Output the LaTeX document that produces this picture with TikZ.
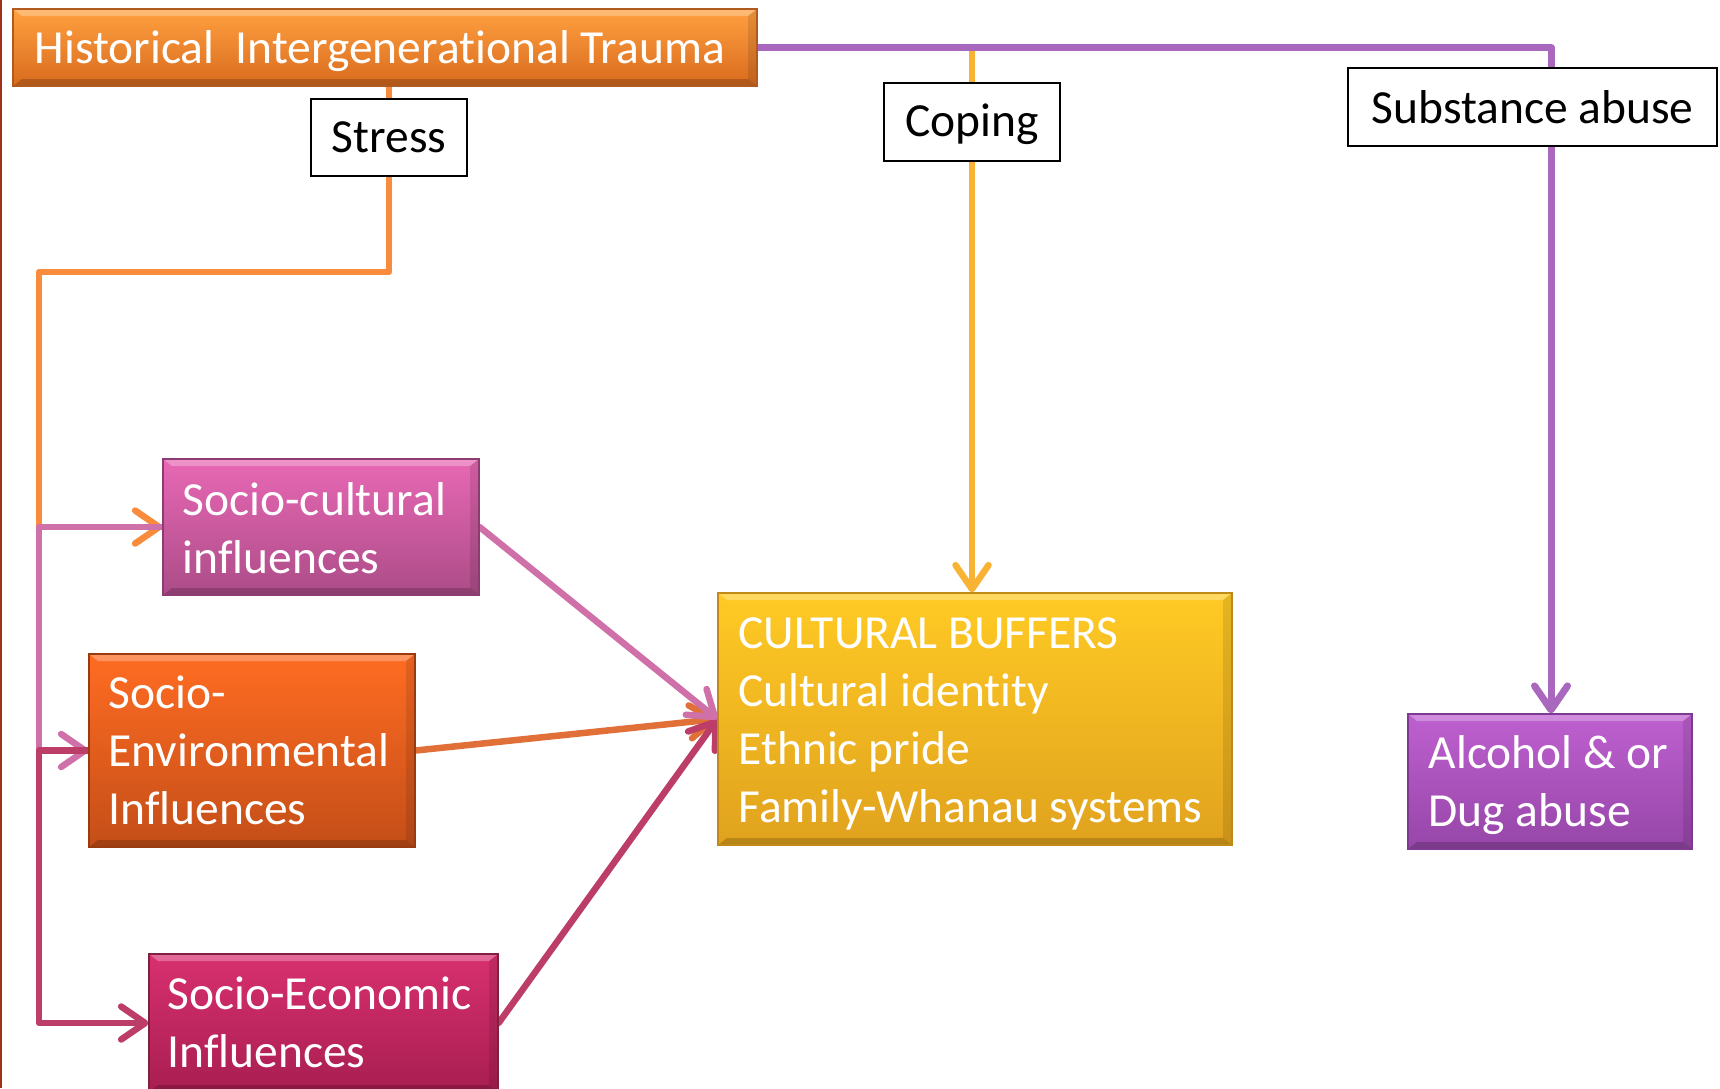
\documentclass[tikz,border=0pt]{standalone}
\usepackage{fontspec}
\setmainfont{Carlito}[Ligatures={NoCommon}]
\usetikzlibrary{arrows.meta,backgrounds}

% box shadings: top / bottom / border
\definecolor{hitT}{HTML}{FFA040}\definecolor{hitB}{HTML}{D96B1E}\definecolor{hitD}{HTML}{B05A20}
\definecolor{scT}{HTML}{E868B4}\definecolor{scB}{HTML}{AC4C88}\definecolor{scD}{HTML}{8C3C70}
\definecolor{seT}{HTML}{FF6C22}\definecolor{seB}{HTML}{C44E18}\definecolor{seD}{HTML}{9A3A10}
\definecolor{ecT}{HTML}{D83070}\definecolor{ecB}{HTML}{A81E50}\definecolor{ecD}{HTML}{802040}
\definecolor{cbT}{HTML}{FFCA24}\definecolor{cbB}{HTML}{E0A21E}\definecolor{cbD}{HTML}{C08A18}
\definecolor{alT}{HTML}{BE60D0}\definecolor{alB}{HTML}{9646A8}\definecolor{alD}{HTML}{7E3A90}
% connector colours
\definecolor{lnOrange}{HTML}{F98C3C}
\definecolor{lnPink}{HTML}{D070A8}
\definecolor{lnCrimson}{HTML}{BC3E68}
\definecolor{lnCope}{HTML}{F8B334}
\definecolor{lnPurple}{HTML}{A967BD}
\definecolor{lnEnv}{HTML}{E07038}
\definecolor{edgeRed}{HTML}{A0301A}

\begin{document}
\begin{tikzpicture}[x=1pt,y=-1pt,
  box/.style={rectangle, inner sep=0pt, line width=1.2pt,
    path picture={
      % bevel: light upper rim, dark lower rim
      \fill[white, opacity=0.28]
        (path picture bounding box.north west) -- (path picture bounding box.north east)
        -- ([xshift=-9pt,yshift=-7pt]path picture bounding box.north east)
        -- ([xshift=9pt,yshift=-7pt]path picture bounding box.north west) -- cycle;
      \fill[black, opacity=0.18]
        (path picture bounding box.south west) -- (path picture bounding box.south east)
        -- ([xshift=-9pt,yshift=7pt]path picture bounding box.south east)
        -- ([xshift=9pt,yshift=7pt]path picture bounding box.south west) -- cycle;
      \fill[black, opacity=0.10]
        (path picture bounding box.north east) -- (path picture bounding box.south east)
        -- ([xshift=-9pt,yshift=7pt]path picture bounding box.south east)
        -- ([xshift=-9pt,yshift=-7pt]path picture bounding box.north east) -- cycle;
    }},
  lbl/.style={text=white, font=\fontsize{47.5}{58}\selectfont, align=left, anchor=west, inner sep=0pt},
  tag/.style={rectangle, draw=black, fill=white, line width=2pt, inner sep=0pt,
              font=\fontsize{47.5}{58}\selectfont},
  conn/.style={line width=6.5pt, line cap=round, line join=round},
  tip/.style={-{Straight Barb[length=24pt,width=33pt,round]}},
]
\useasboundingbox (0,0) rectangle (1720,1088);
\clip (0,0) rectangle (1720,1088);
\fill[edgeRed] (0,0) rectangle (2,1088);

% ---- boxes ----
\node[box, top color=hitT, bottom color=hitB, draw=hitD,
      minimum width=744pt, minimum height=77pt] (hit) at (385,47.5) {};
\node[lbl] (hitt) at ([xshift=22pt,yshift=-4pt]hit.west) {Historical\ \ Intergenerational Trauma};

\node[box, top color=scT, bottom color=scB, draw=scD,
      minimum width=316pt, minimum height=136pt] (sc) at (321,527) {};
\node[lbl] (sct) at ([xshift=20pt,yshift=-1pt]sc.west) {Socio-cultural\\influences};

\node[box, top color=seT, bottom color=seB, draw=seD,
      minimum width=326pt, minimum height=193pt] (se) at (252,750.5) {};
\node[lbl] (set) at ([xshift=20pt,yshift=0pt]se.west) {Socio-\\Environmental\\Influences};

\node[box, top color=ecT, bottom color=ecB, draw=ecD,
      minimum width=349pt, minimum height=138pt] (ec) at (323.5,1023) {};
\node[lbl] (ect) at ([xshift=19pt,yshift=1pt]ec.west) {Socio-Economic\\Influences};

\node[box, top color=cbT, bottom color=cbB, draw=cbD,
      minimum width=514pt, minimum height=252pt] (cb) at (975,719) {};
\node[lbl] (cbt) at ([xshift=21pt,yshift=-5pt]cb.west) {CULTURAL BUFFERS\\Cultural identity\\Ethnic pride\\Family-Whanau systems};

\node[box, top color=alT, bottom color=alB, draw=alD,
      minimum width=284pt, minimum height=135pt] (al) at (1550,781.5) {};
\node[lbl] (alt) at ([xshift=21pt,yshift=-4pt]al.west) {Alcohol \& or\\Dug abuse};

% ---- connector labels ----
\node[tag, minimum width=156pt, minimum height=77pt] (stress) at (389,137.5) {Stress};
\node[tag, minimum width=176pt, minimum height=78pt, text depth=3pt] (coping) at (972,122) {Coping};
\node[tag, minimum width=369pt, minimum height=78pt] (subst) at (1532.5,107) {Substance abuse};

\coordinate (railtop) at (39,272);
\coordinate (substcol) at (1551,0);

% ---- connectors (under the boxes) ----
\begin{scope}[on background layer]
  \fill[white] (0,0) rectangle (1720,1088);
  \draw[conn, lnCope, tip] (coping |- hit.east) -- (coping |- cb.north);
  \draw[conn, lnPurple, line width=7pt, tip] (hit.east) -- (substcol |- hit.east) -- (substcol |- al.north);
  \draw[conn, lnOrange, tip] (hit.south -| stress) -- (stress |- railtop) -- (railtop)
        -- (railtop |- sc.west) -- (sc.west);
  \draw[conn, lnPink, tip] (sc.west) -- (sc.west -| railtop) -- (railtop |- se.west) -- (se.west);
  \draw[conn, lnCrimson, tip] (se.west) -- (se.west -| railtop) -- (railtop |- ec.west) -- (ec.west);
  \draw[conn, lnEnv, tip] (se.east) -- (cb.west);
  \draw[conn, lnCrimson, tip] (ec.east) -- (cb.west);
  \draw[conn, lnPink, tip] (sc.east) -- (cb.west);
\end{scope}
\end{tikzpicture}
\end{document}
